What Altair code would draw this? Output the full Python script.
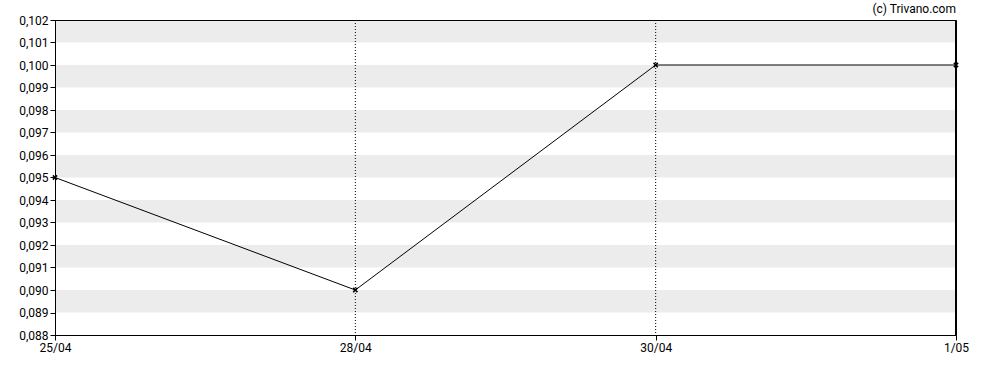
import altair as alt
import pandas as pd

dates = ["25/04", "28/04", "30/04", "1/05"]
prices = [0.095, 0.090, 0.100, 0.100]
band_lo = [0.089, 0.091, 0.093, 0.095, 0.097, 0.099, 0.101]
band_hi = [0.090, 0.092, 0.094, 0.096, 0.098, 0.100, 0.102]
y_ticks = [0.088, 0.089, 0.090, 0.091, 0.092, 0.093, 0.094, 0.095,
           0.096, 0.097, 0.098, 0.099, 0.100, 0.101, 0.102]
credit_text = ["(c) Trivano.com"]

df = pd.DataFrame({"date": dates, "price": prices})
bands = pd.DataFrame({"lo": band_lo, "hi": band_hi})
one = pd.DataFrame({"t": credit_text})

FONT = "Roboto"
FS = 12
yscale = alt.Scale(domain=[0.088, 0.102], nice=False, zero=False)
xscale = alt.Scale(type="point", padding=0, domain=dates)

yaxis = alt.Axis(title=None, values=y_ticks, grid=False,
                 labelExpr="replace(format(datum.value, '.3f'), '.', ',')",
                 domainColor="#000000", tickColor="#000000", tickSize=5,
                 labelFont=FONT, labelFontSize=FS, labelColor="#000000",
                 labelPadding=2, labelOverlap=False, zindex=1)
xaxis = alt.Axis(title=None, labelAngle=0, grid=False, domainColor="#000000",
                 tickColor="#000000", tickSize=5, labelFont=FONT,
                 labelFontSize=FS, labelColor="#000000", labelPadding=2,
                 labelOverlap=False, zindex=1)

band_layer = alt.Chart(bands).mark_rect(color="#ececec").encode(
    y=alt.Y("lo:Q", scale=yscale, axis=yaxis),
    y2="hi:Q",
    x=alt.value(0),
    x2=alt.value(901),
)

vgrid = alt.Chart(df).mark_rule(color="#000000", strokeWidth=1, strokeDash=[1, 2]).encode(
    x=alt.X("date:O", scale=xscale, sort=dates, axis=xaxis),
    y=alt.value(0), y2=alt.value(315),
).transform_filter(alt.datum.date != dates[0])

line = alt.Chart(df).mark_line(color="#000000", strokeWidth=1).encode(
    x=alt.X("date:O", scale=xscale, sort=dates, axis=xaxis),
    y=alt.Y("price:Q", scale=yscale, axis=yaxis),
)

pts = alt.Chart(df).mark_point(
    shape="M-1,-1L1,1M-1,1L1,-1", filled=False, color="#000000", size=18,
    strokeWidth=1.5, opacity=1
).encode(
    x=alt.X("date:O", scale=xscale, sort=dates, axis=xaxis),
    y=alt.Y("price:Q", scale=yscale, axis=yaxis),
)

top_rule = alt.Chart(one).mark_rule(color="#000000", strokeWidth=1).encode(
    x=alt.value(0), x2=alt.value(901), y=alt.value(0.5)
)
right_rule = alt.Chart(one).mark_rule(color="#000000", strokeWidth=1).encode(
    x=alt.value(900.5), y=alt.value(0), y2=alt.value(315)
)

credit = alt.Chart(one).mark_text(
    align="right", baseline="middle", font=FONT, fontSize=FS, fontWeight="normal",
    color="#000000"
).encode(
    x=alt.value(901), y=alt.value(-11), text="t:N"
)

chart = alt.layer(band_layer, vgrid, line, pts, top_rule, right_rule, credit).properties(
    width=901, height=315,
    autosize=alt.AutoSizeParams(type="none"),
    padding={"left": 55, "top": 20, "right": 32, "bottom": 35},
    background="#ffffff",
).configure_view(stroke="#000000", strokeWidth=1)

chart.save("out.html", embed_options={"renderer": "svg", "actions": False})
